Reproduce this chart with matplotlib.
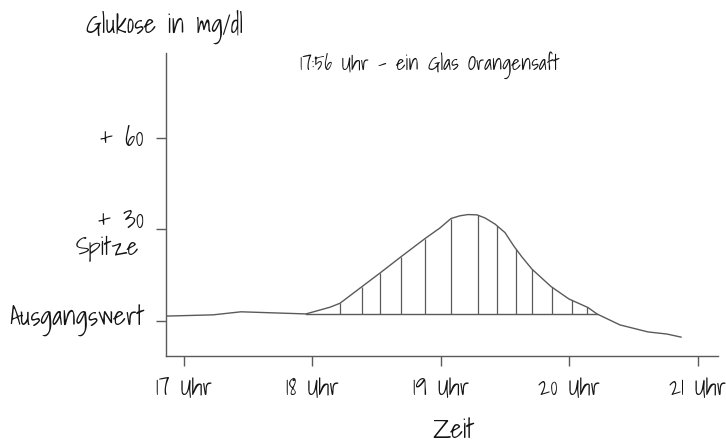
import matplotlib
matplotlib.use("Agg")
import matplotlib.pyplot as plt
import numpy as np

plt.rcParams['font.family'] = ['Shadows Into Light', 'Archivo Narrow', 'DejaVu Sans']

# data (time in hours, glucose relative to baseline in mg/dl)
time_h = [16.868, 17.226, 17.444, 17.732, 17.949, 18.136, 18.214, 18.377, 18.525,
          18.681, 18.875, 18.992, 19.078, 19.148, 19.210, 19.280, 19.342, 19.420,
          19.498, 19.568, 19.630, 19.708, 19.856, 19.996, 20.144, 20.214, 20.393,
          20.611, 20.759, 20.868]
glucose = [1.6, 2.0, 3.0, 2.6, 2.3, 4.5, 5.8, 11.0, 15.7,
           20.8, 27.0, 30.5, 33.6, 34.5, 34.9, 34.8, 33.8, 31.8,
           29.0, 24.5, 21.0, 17.0, 11.3, 7.2, 4.4, 2.3, -1.3,
           -3.6, -4.3, -5.3]
hatch_x = [18.214, 18.385, 18.525, 18.688, 18.875, 19.078, 19.288, 19.436,
           19.584, 19.708, 19.864, 20.019, 20.136]
hatch_start, hatch_end, hatch_base = 17.949, 20.214, 2.3

x_ticks = [17, 18, 19, 20, 21]
x_labels = ["17 Uhr", "18 Uhr", "19 Uhr", "20 Uhr", "21 Uhr"]
y_ticks = [0, 30, 60]
y_labels = ["Ausgangswert", "", "+ 60"]
peak_label_value = "+ 30"
peak_label_name = "Spitze"

line_c = "#5a5a5a"
text_c = "#141414"

fig = plt.figure(figsize=(7.26, 4.46), dpi=100)
ax = fig.add_axes([166 / 726, 1 - 356 / 446, 552 / 726, 303 / 446])

ax.plot(time_h, glucose, color=line_c, lw=1.0)
ax.plot([hatch_start, hatch_end], [hatch_base, hatch_base], color=line_c, lw=1.0)
hy = np.interp(hatch_x, time_h, glucose)
ax.vlines(hatch_x, hatch_base, hy, color=line_c, lw=0.9)

ax.set_xlim(16.86, 21.156)
ax.set_ylim(-11.5, 87.9)

for s in ['top', 'right']:
    ax.spines[s].set_visible(False)
for s in ['left', 'bottom']:
    ax.spines[s].set_color(line_c)
    ax.spines[s].set_linewidth(1.0)

base = 20
ax.set_xticks(x_ticks)
ax.set_xticklabels(x_labels, fontsize=base, color=text_c, va='center')
ax.set_yticks(y_ticks)
ax.set_yticklabels(y_labels, fontsize=base, color=text_c, va='center')
# tick length 10px, label centre 32px below axis
ax.tick_params(axis='x', direction='out', length=7.2, width=1.0, color=line_c, pad=15.8)
ax.tick_params(axis='y', direction='out', length=7.2, width=1.0, color=line_c, pad=8.6)

t30 = ax.annotate(peak_label_value, xy=(0, 30), xycoords=('axes fraction', 'data'),
                  xytext=(-22, 9), textcoords='offset pixels', ha='right', va='center',
                  fontsize=base, color=text_c)
tsp = ax.annotate(peak_label_name, xy=(0, 30), xycoords=('axes fraction', 'data'),
                  xytext=(-27, -18), textcoords='offset pixels', ha='right', va='center',
                  fontsize=base, color=text_c)

xl = ax.set_xlabel("Zeit", fontsize=base, color=text_c, va='bottom')
ax.xaxis.set_label_coords((453 - 166) / 552, (356 - 445) / 303)

title = fig.text(164 / 726, 1 - 28 / 446, "Glukose in mg/dl", fontsize=base, color=text_c,
                 ha='center', va='center')
note = fig.text(430 / 726, 1 - 66 / 446, "17:56 Uhr - ein Glas Orangensaft", fontsize=base,
                color=text_c, ha='center', va='center')

# fit font sizes to the widths measured on the reference
fig.canvas.draw()
r = fig.canvas.get_renderer()
s_y = base * 135 / ax.get_yticklabels()[0].get_window_extent(r).width
s_x = base * 56 / ax.get_xticklabels()[0].get_window_extent(r).width
ax.tick_params(axis='y', labelsize=s_y)
ax.tick_params(axis='x', labelsize=s_x)
t30.set_fontsize(s_y)
tsp.set_fontsize(s_y * 0.92)
xl.set_fontsize(s_y)
title.set_fontsize(base * 157 / title.get_window_extent(r).width)
note.set_fontsize(base * 259 / note.get_window_extent(r).width)

fig.savefig("out.png", dpi=100)
